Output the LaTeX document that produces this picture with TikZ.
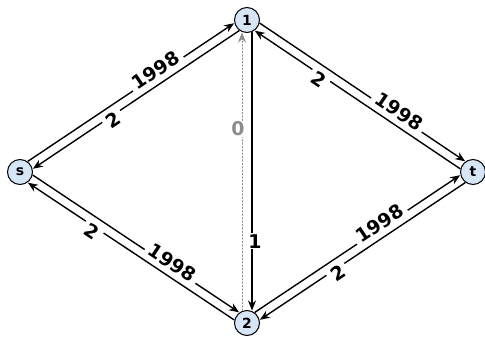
\documentclass[tikz,border=0pt]{standalone}
\usepackage{fontspec}
\setmainfont{DejaVu Sans}
\usetikzlibrary{arrows.meta, calc}
\definecolor{nodefill}{HTML}{D6E6F6}
\definecolor{grigio}{HTML}{8C8C8C}

\begin{document}
\begin{tikzpicture}[x=1bp,y=1bp, line cap=round, >={Stealth[length=10bp,width=8bp]},
  vertice/.style={circle,draw,line width=1bp,fill=nodefill,minimum size=25bp,
    inner sep=0pt,font=\fontsize{14}{14}\selectfont\bfseries},
  arco/.style={->,line width=1.4bp,shorten <=12.5bp,shorten >=12.5bp},
  peso/.style={fill=white,inner xsep=4bp,inner ysep=1bp,
    font=\fontsize{19}{19}\selectfont\bfseries}]

  \useasboundingbox (0,0) rectangle (485,336);

  %--- nodi
  \node[vertice] (s)  at (20,164)  {s};
  \node[vertice] (t)  at (473,164) {t};
  \node[vertice] (v1) at (247,316) {1};
  \node[vertice] (v2) at (247,13)  {2};

  %--- archi doppi (da/a/peso/posizione)
  \def\archi{s/v1/1998/0.62, v1/s/2/0.61, v1/t/1998/0.65, t/v1/2/0.66,
             s/v2/1998/0.65, v2/s/2/0.66, v2/t/1998/0.61, t/v2/2/0.62}
  \foreach \a/\b/\wt/\p in \archi
    \draw[arco] ($(\a)!4.5bp!90:(\b)$) -- ($(\b)!4.5bp!-90:(\a)$);
  % pesi un po' fuori dalla coppia di archi
  \foreach \a/\b/\wt/\p in \archi
    \path ($(\a)!9bp!90:(\b)$) -- node[peso,sloped,pos=\p] {\wt} ($(\b)!9bp!-90:(\a)$);

  %--- arco verticale 1 -> 2 e arco residuo 2 -> 1
  \draw[arco] ($(v1)!5bp!90:(v2)$) --
    node[peso,pos=.73,xshift=3bp] {1} ($(v2)!5bp!-90:(v1)$);
  \draw[arco,grigio,dotted,line width=.9bp] ($(v2)!5bp!90:(v1)$) --
    node[peso,pos=.64,xshift=-4bp,text=grigio] {0} ($(v1)!5bp!-90:(v2)$);
\end{tikzpicture}
\end{document}
